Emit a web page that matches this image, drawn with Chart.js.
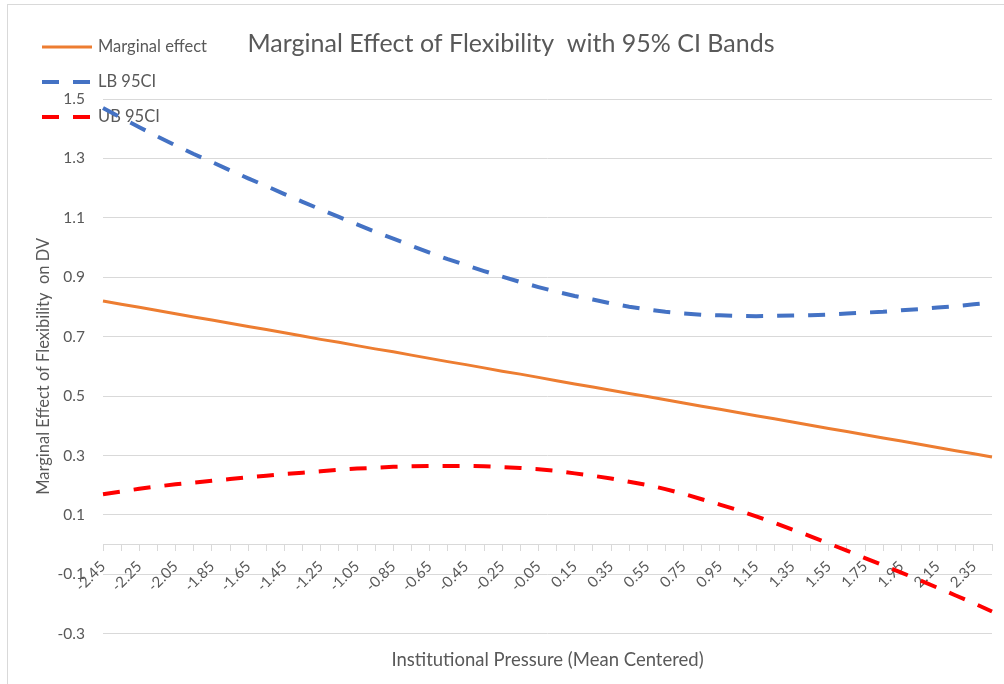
<!DOCTYPE html>
<html>
<head>
<meta charset="utf-8">
<script src="https://cdn.jsdelivr.net/npm/chart.js@4"></script>
<style>
  body { margin: 0; background: #fff; }
  #wrap { position: relative; width: 1004px; height: 684px; }
  #frame { position: absolute; left: 7px; top: 4px; right: 0; bottom: 0; border-top: 1px solid #d9d9d9; border-left: 1px solid #d9d9d9; }
  #chart { position: absolute; left: 0; top: 0; }
</style>
</head>
<body>
<div id="wrap">
  <div id="frame"></div>
  <canvas id="chart"></canvas>
</div>
<script>
const xLabels = [
  '-2.45', '-2.35', '-2.25', '-2.15', '-2.05', '-1.95', '-1.85', '-1.75', '-1.65', '-1.55',
  '-1.45', '-1.35', '-1.25', '-1.15', '-1.05', '-0.95', '-0.85', '-0.75', '-0.65', '-0.55',
  '-0.45', '-0.35', '-0.25', '-0.15', '-0.05', '0.05', '0.15', '0.25', '0.35', '0.45',
  '0.55', '0.65', '0.75', '0.85', '0.95', '1.05', '1.15', '1.25', '1.35', '1.45',
  '1.55', '1.65', '1.75', '1.85', '1.95', '2.05', '2.15', '2.25', '2.35', '2.45'
];

const marginalEffect = [
  0.820, 0.809, 0.799, 0.788, 0.777, 0.766, 0.756, 0.745, 0.734, 0.724,
  0.713, 0.702, 0.691, 0.681, 0.670, 0.659, 0.649, 0.638, 0.627, 0.616,
  0.606, 0.595, 0.584, 0.574, 0.563, 0.552, 0.541, 0.531, 0.520, 0.509,
  0.499, 0.488, 0.477, 0.466, 0.456, 0.445, 0.434, 0.424, 0.413, 0.402,
  0.391, 0.381, 0.370, 0.359, 0.349, 0.338, 0.327, 0.316, 0.306, 0.295
];

const lb95 = [
  1.470, 1.437, 1.405, 1.374, 1.344, 1.315, 1.288, 1.260, 1.233, 1.207,
  1.180, 1.154, 1.128, 1.103, 1.078, 1.053, 1.030, 1.006, 0.983, 0.961,
  0.941, 0.921, 0.902, 0.884, 0.867, 0.851, 0.837, 0.825, 0.812, 0.801,
  0.792, 0.784, 0.778, 0.774, 0.772, 0.770, 0.769, 0.770, 0.771, 0.772,
  0.774, 0.778, 0.781, 0.784, 0.789, 0.793, 0.798, 0.803, 0.809, 0.815
];

const ub95 = [
  0.170, 0.179, 0.188, 0.196, 0.203, 0.209, 0.215, 0.221, 0.227, 0.232,
  0.238, 0.242, 0.247, 0.252, 0.256, 0.259, 0.262, 0.264, 0.265, 0.265,
  0.265, 0.264, 0.261, 0.258, 0.254, 0.248, 0.240, 0.232, 0.223, 0.212,
  0.201, 0.187, 0.171, 0.153, 0.135, 0.116, 0.095, 0.074, 0.051, 0.028,
  0.004, -0.020, -0.045, -0.069, -0.094, -0.119, -0.145, -0.171, -0.197, -0.225
];

const FONT = 'Lato, "Noto Sans", sans-serif';
const TEXT = '#595959';
const GRID = '#d9d9d9';

// legend sits over the top-left corner like the Excel one, so draw it by hand
const cornerLegend = {
  id: 'cornerLegend',
  beforeDatasetsDraw(chart) {
    const ctx = chart.ctx;
    ctx.save();
    ctx.font = '16.5px ' + FONT;
    ctx.textBaseline = 'middle';
    chart.data.datasets.forEach((ds, i) => {
      const y = 47 + i * 35;
      ctx.beginPath();
      ctx.strokeStyle = ds.borderColor;
      ctx.lineWidth = ds.borderWidth;
      ctx.setLineDash(ds.borderDash || []);
      ctx.moveTo(42, y);
      ctx.lineTo(92, y);
      ctx.stroke();
      ctx.fillStyle = TEXT;
      ctx.fillText(ds.label, 98, y);
    });
    ctx.restore();
  }
};

const ctx = document.getElementById('chart').getContext('2d');
const chart = new Chart(ctx, {
  type: 'line',
  data: {
    labels: xLabels,
    datasets: [{
      label: 'Marginal effect',
      data: marginalEffect,
      xAxisID: 'x',
      borderColor: '#ED7D31',
      borderWidth: 3,
      pointRadius: 0,
      tension: 0
    }, {
      label: 'LB 95CI',
      data: lb95,
      xAxisID: 'x',
      borderColor: '#4472C4',
      borderWidth: 4,
      borderDash: [17, 14],
      pointRadius: 0,
      tension: 0
    }, {
      label: 'UB 95CI',
      data: ub95,
      xAxisID: 'x',
      borderColor: '#FF0000',
      borderWidth: 4,
      borderDash: [17, 14],
      pointRadius: 0,
      tension: 0
    }]
  },
  options: {
    responsive: true,
    maintainAspectRatio: false,
    animation: false,
    layout: { padding: { left: 30, right: 12, top: 0, bottom: 0 } },
    plugins: {
      legend: { display: false },
      tooltip: { enabled: false },
      title: {
        display: true,
        text: 'Marginal Effect of Flexibility  with 95% CI Bands',
        color: TEXT,
        font: { family: FONT, size: 25, weight: 'normal' },
        padding: { top: 29, bottom: 40 }
      }
    },
    scales: {
      x: {
        type: 'category',
        axis: 'x',
        position: { y: 0 },
        grid: { drawOnChartArea: false, drawTicks: true, tickLength: 6, color: GRID },
        border: { display: true, color: GRID },
        ticks: {
          autoSkip: false,
          maxRotation: 45,
          minRotation: 45,
          padding: 7,
          color: TEXT,
          font: { family: FONT, size: 15 },
          callback: (val, i) => (i % 2 === 0 ? xLabels[i] : '')
        },
        // the rotated labels should not push the plot in from the right
        afterFit: s => { s.paddingRight = 0; }
      },
      x2: {
        type: 'category',
        axis: 'x',
        position: 'bottom',
        grid: { display: false, drawTicks: false },
        border: { display: false },
        ticks: { display: false },
        title: {
          display: true,
          text: 'Institutional Pressure (Mean Centered)',
          color: TEXT,
          font: { family: FONT, size: 18.5 },
          padding: { top: 15, bottom: 13 }
        }
      },
      y: {
        min: -0.3,
        max: 1.5,
        grid: { color: GRID, drawTicks: false },
        border: { display: false },
        ticks: {
          stepSize: 0.2,
          padding: 18,
          color: TEXT,
          font: { family: FONT, size: 15.5 },
          callback: v => v.toFixed(1)
        },
        title: {
          display: true,
          text: 'Marginal Effect of Flexibility  on DV',
          color: TEXT,
          font: { family: FONT, size: 16.5 },
          padding: { top: 4, bottom: 4 }
        },
        afterFit: s => { s.width = 73; }
      }
    }
  },
  plugins: [cornerLegend]
});
</script>
</body>
</html>
